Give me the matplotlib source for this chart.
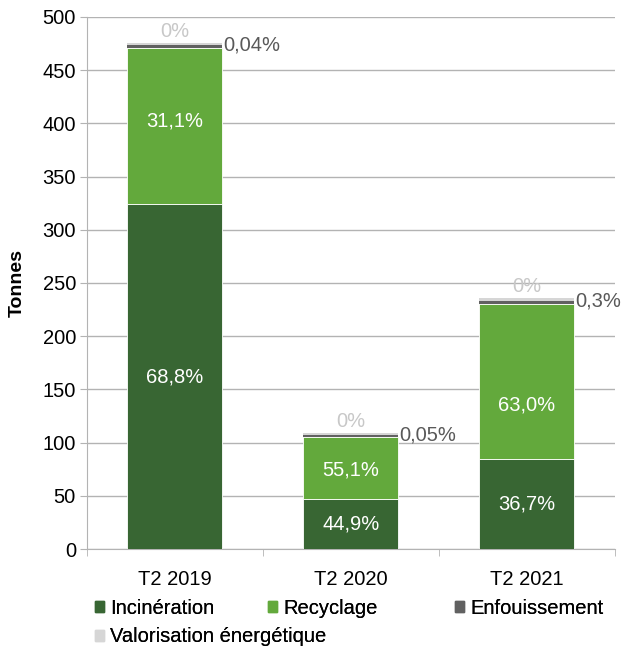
import numpy as np
import matplotlib.pyplot as plt
from matplotlib.patches import Patch

plt.rcParams['font.family'] = ['Liberation Sans', 'DejaVu Sans']

categories = ['T2 2019', 'T2 2020', 'T2 2021']
incineration = [324, 47, 84.6]
recyclage = [147, 58, 146]
enfouissement = [2.2, 1.8, 2.5]
valorisation = [2.2, 2.0, 2.4]

lab_incin = ['68,8%', '44,9%', '36,7%']
lab_recy = ['31,1%', '55,1%', '63,0%']
lab_enf = ['0,04%', '0,05%', '0,3%']
lab_val = ['0%', '0%', '0%']
series_names = ['Incinération', 'Recyclage', 'Enfouissement', 'Valorisation énergétique']

# where the recycling label sits inside its segment (fraction from bottom)
recy_label_frac = [0.53, 0.47, 0.35]

c_incin = '#386633'
c_recy = '#63a93c'
c_enf = '#616161'
c_val = '#d6d6d6'
colors = [c_incin, c_recy, c_enf, c_val]
fs = 14.5

fig = plt.figure(figsize=(6.26, 6.49), dpi=100)
ax = fig.add_axes([0.139, 0.154, 0.843, 0.820])

x = np.arange(len(categories))
w = 0.54
inc = np.array(incineration)
rec = np.array(recyclage)
enf = np.array(enfouissement)
val = np.array(valorisation)

ax.bar(x, inc, w, color=c_incin, edgecolor='white', linewidth=0.6, zorder=3)
ax.bar(x, rec, w, bottom=inc, color=c_recy, edgecolor='white', linewidth=0.6, zorder=3)
ax.bar(x, enf, w, bottom=inc + rec, color=c_enf, linewidth=0, zorder=3)
ax.bar(x, val, w, bottom=inc + rec + enf, color=c_val, linewidth=0, zorder=3)

for i in range(len(x)):
    ax.text(x[i], inc[i] / 2, lab_incin[i], ha='center', va='center', color='white', fontsize=fs, zorder=4)
    ax.text(x[i], inc[i] + rec[i] * recy_label_frac[i], lab_recy[i], ha='center', va='center',
            color='white', fontsize=fs, zorder=4)
    top = inc[i] + rec[i] + enf[i]
    ax.text(x[i] + w / 2 + 0.005, top, lab_enf[i], ha='left', va='center', color='#595959', fontsize=fs, zorder=4)
    ax.text(x[i], top + val[i] + 2, lab_val[i], ha='center', va='bottom', color='#c8c8c8', fontsize=fs, zorder=4)

ax.set_xlim(-0.5, 2.5)
ax.set_ylim(0, 500)
ax.set_yticks(np.arange(0, 501, 50))
ax.yaxis.grid(True, color='#b3b3b3', linewidth=1, zorder=0)
ax.set_xticks(x)
ax.set_xticklabels(categories, fontsize=fs)
ax.set_xticks([-0.5, 0.5, 1.5, 2.5], minor=True)
ax.tick_params(axis='x', which='major', length=0, pad=15)
ax.tick_params(axis='x', which='minor', length=5, color='#b3b3b3')
ax.tick_params(axis='y', length=5, color='#b3b3b3', labelsize=fs, pad=3)
for s in ['top', 'right']:
    ax.spines[s].set_visible(False)
ax.spines['left'].set_color('#b3b3b3')
ax.spines['bottom'].set_color('#b3b3b3')
ax.set_ylabel('Tonnes', fontsize=fs - 0.5, fontweight='bold')
ax.yaxis.set_label_coords(-0.117, 0.5)

# legend laid out like the original (flowing rows)
leg_pos = [(95, 608), (268, 608), (455, 608), (95, 637)]
for name, col, (px, py) in zip(series_names, colors, leg_pos):
    lg = fig.legend(handles=[Patch(color=col, label=name)], loc='center left',
                    bbox_to_anchor=(px / 626, 1 - py / 649), frameon=False, fontsize=fs,
                    handlelength=0.45, handleheight=0.45, handletextpad=0.3,
                    borderpad=0, borderaxespad=0)
    fig.add_artist(lg)

fig.savefig('out.png', dpi=100)
